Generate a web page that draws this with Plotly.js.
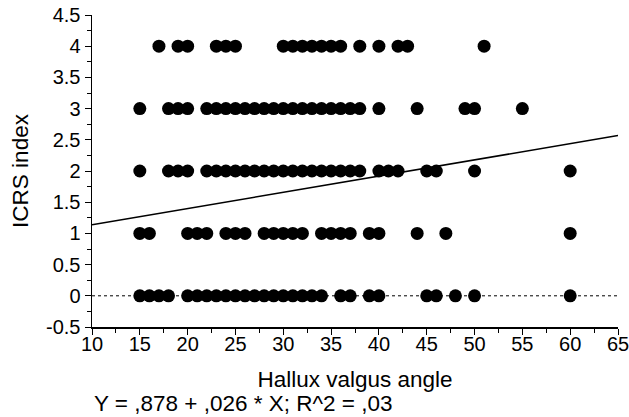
<!DOCTYPE html>
<html>
<head>
<meta charset="utf-8">
<script src="https://cdn.plot.ly/plotly-3.0.1.min.js"></script>
<style>html,body{margin:0;padding:0;background:#fff;}#chart{width:629px;height:417px;}</style>
</head>
<body>
<div id="chart"></div>
<script>
// Hallux valgus angle values observed at each ICRS index level
const angles4 = [17, 19, 20, 23, 24, 25, 30, 31, 32, 33, 34, 35, 36, 38, 40, 42, 43, 51];
const angles3 = [15, 18, 19, 20, 22, 23, 24, 25, 26, 27, 28, 29, 30, 31, 32, 33, 34, 35, 36, 37, 38, 40, 44, 49, 50, 55];
const angles2 = [15, 18, 19, 20, 22, 23, 24, 25, 26, 27, 28, 29, 30, 31, 32, 33, 34, 35, 36, 37, 38, 40, 41, 42, 45, 46, 50, 60];
const angles1 = [15, 16, 20, 21, 22, 24, 25, 26, 28, 29, 30, 31, 32, 34, 35, 36, 37, 39, 40, 44, 47, 60];
const angles0 = [15, 16, 17, 18, 20, 21, 22, 23, 24, 25, 26, 27, 28, 29, 30, 31, 32, 33, 34, 36, 37, 39, 40, 45, 46, 48, 50, 60];
const levels = [4, 3, 2, 1, 0];

// Regression shown in the caption
const intercept = 0.878;
const slope = 0.026;
const fitX = [10, 65];
const equationText = "Y = ,878 + ,026 * X; R^2 = ,03";

const xTickVals = [10, 15, 20, 25, 30, 35, 40, 45, 50, 55, 60, 65];
const yTickVals = [-0.5, 0, 0.5, 1, 1.5, 2, 2.5, 3, 3.5, 4, 4.5];
const yTickText = ["-0.5", "0", "0.5", "1", "1.5", "2", "2.5", "3", "3.5", "4", "4.5"];

const groups = [angles4, angles3, angles2, angles1, angles0];
const ptsX = [], ptsY = [];
groups.forEach((g, i) => g.forEach(a => { ptsX.push(a); ptsY.push(levels[i]); }));

const traces = [
  {x: fitX, y: [0, 0], mode: 'lines', line: {color: '#000', width: 1, dash: 'dot'}, hoverinfo: 'skip'},
  {x: ptsX, y: ptsY, mode: 'markers', marker: {color: '#000', size: 13}},
  {x: fitX, y: fitX.map(v => intercept + slope * v), mode: 'lines', line: {color: '#000', width: 1.5}}
];

const tickFont = {family: 'Liberation Sans, Arial, sans-serif', size: 20, color: '#000'};
const titleFont = {family: 'Liberation Sans, Arial, sans-serif', size: 22.5, color: '#000'};

const layout = {
  width: 629, height: 417,
  margin: {l: 92, r: 11, t: 15, b: 90},
  paper_bgcolor: '#fff', plot_bgcolor: '#fff',
  showlegend: false,
  font: tickFont,
  xaxis: {
    range: [10, 65], tickvals: xTickVals, ticktext: xTickVals.map(String),
    showgrid: false, zeroline: false, showline: true, linecolor: '#000', linewidth: 1.5,
    ticks: 'outside', ticklen: 6, tickwidth: 1, tickcolor: '#000',
    minor: {dtick: 2.5, tick0: 10, ticks: 'outside', ticklen: 4, tickcolor: '#000', showgrid: false},
    tickfont: tickFont, ticklabelstandoff: -8, ticklabeloverflow: 'allow',
    title: {text: 'Hallux valgus angle', font: titleFont, standoff: 17}
  },
  yaxis: {
    range: [-0.5, 4.5], tickvals: yTickVals, ticktext: yTickText,
    showgrid: false, zeroline: false, showline: true, linecolor: '#000', linewidth: 1.5,
    ticks: 'outside', ticklen: 6, tickwidth: 1, tickcolor: '#000',
    minor: {dtick: 0.25, tick0: 0, ticks: 'outside', ticklen: 4, tickcolor: '#000', showgrid: false},
    tickfont: tickFont, ticklabeloverflow: 'allow',
    title: {text: 'ICRS index', font: titleFont, standoff: 11}
  },
  annotations: [{
    text: equationText, xref: 'paper', yref: 'paper', x: 0, y: 0,
    xanchor: 'left', yanchor: 'middle', yshift: -76, showarrow: false, font: titleFont
  }]
};

Plotly.newPlot('chart', traces, layout, {displayModeBar: false, staticPlot: true});
</script>
</body>
</html>
